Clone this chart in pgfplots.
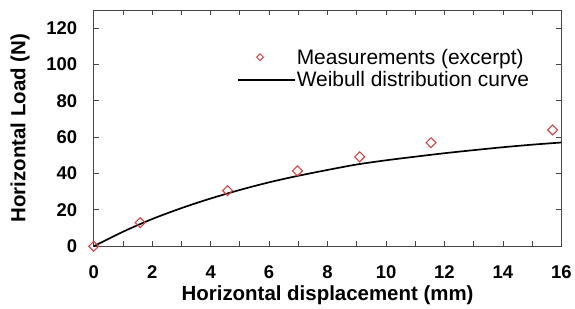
\documentclass[border=0pt]{standalone}
\usepackage{pgfplots}
\pgfplotsset{compat=1.18}
\usepackage{fontspec}
\setmainfont{Liberation Sans}
\definecolor{mred}{RGB}{224,64,64}
\definecolor{axgray}{RGB}{70,70,70}
\begin{document}
\begin{tikzpicture}
\begin{axis}[
  scale only axis,
  width=469pt, height=237pt,
  xmin=0, xmax=16, ymin=0, ymax=130,
  xtick={0,2,...,16}, ytick={0,20,...,120},
  minor x tick num=1,
  tick align=inside,
  major tick length=5pt, minor tick length=5pt,
  axis line style={axgray, line width=0.9pt},
  every tick/.style={axgray, line width=0.9pt},
  /pgf/number format/assume math mode=true,
  ticklabel style={font=\bfseries\fontsize{18.5}{20}\selectfont},
  xticklabel style={yshift=-16pt},
  yticklabel style={xshift=-13pt},
  xlabel={Horizontal displacement (mm)},
  ylabel={Horizontal Load (N)},
  label style={font=\bfseries\fontsize{20.5}{22}\selectfont},
  xlabel style={yshift=0pt},
  ylabel style={yshift=10pt},
  clip=false,
  legend style={draw=none, fill=none, at={(0.94,0.849)}, anchor=north east,
    font=\fontsize{21}{23}\selectfont, row sep=4pt,
    nodes={inner xsep=1pt, inner ysep=1pt}},
  legend cell align=left,
]
\addplot[only marks, mark=square, mark size=3.5pt,
  mark options={rotate=45, draw=mred, line width=1.1pt},
  legend image code/.code={\path[draw=none] (0pt,0pt) -- (57pt,0pt); \path plot[mark=square, mark size=2.4pt, mark options={rotate=45, draw=mred, line width=1pt}] coordinates {(22pt,0pt)};}]
coordinates {(0,0) (1.59,13.0) (4.58,30.6) (6.97,41.5) (9.1,49.2) (11.54,57.0) (15.7,64.0)};
\addlegendentry{Measurements (excerpt)}
\addplot[black, line width=1.7pt, smooth,
  legend image code/.code={\draw[black, line width=1.7pt] (0pt,0pt) -- (57pt,0pt);}]
coordinates {(0,0) (1,8.0) (2,15.0) (3,21.0) (4,26.3) (5,31.0) (6,35.2) (7,38.8) (8,42.0) (9,45.0) (10,47.3) (11,49.3) (12,51.2) (13,52.9) (14,54.5) (15,55.9) (16,57.1)};
\addlegendentry{Weibull distribution curve}
\end{axis}
\path ([xshift=-94pt,yshift=-60pt]current axis.south west) rectangle ([xshift=12pt,yshift=10pt]current axis.north east);
\end{tikzpicture}
\end{document}
